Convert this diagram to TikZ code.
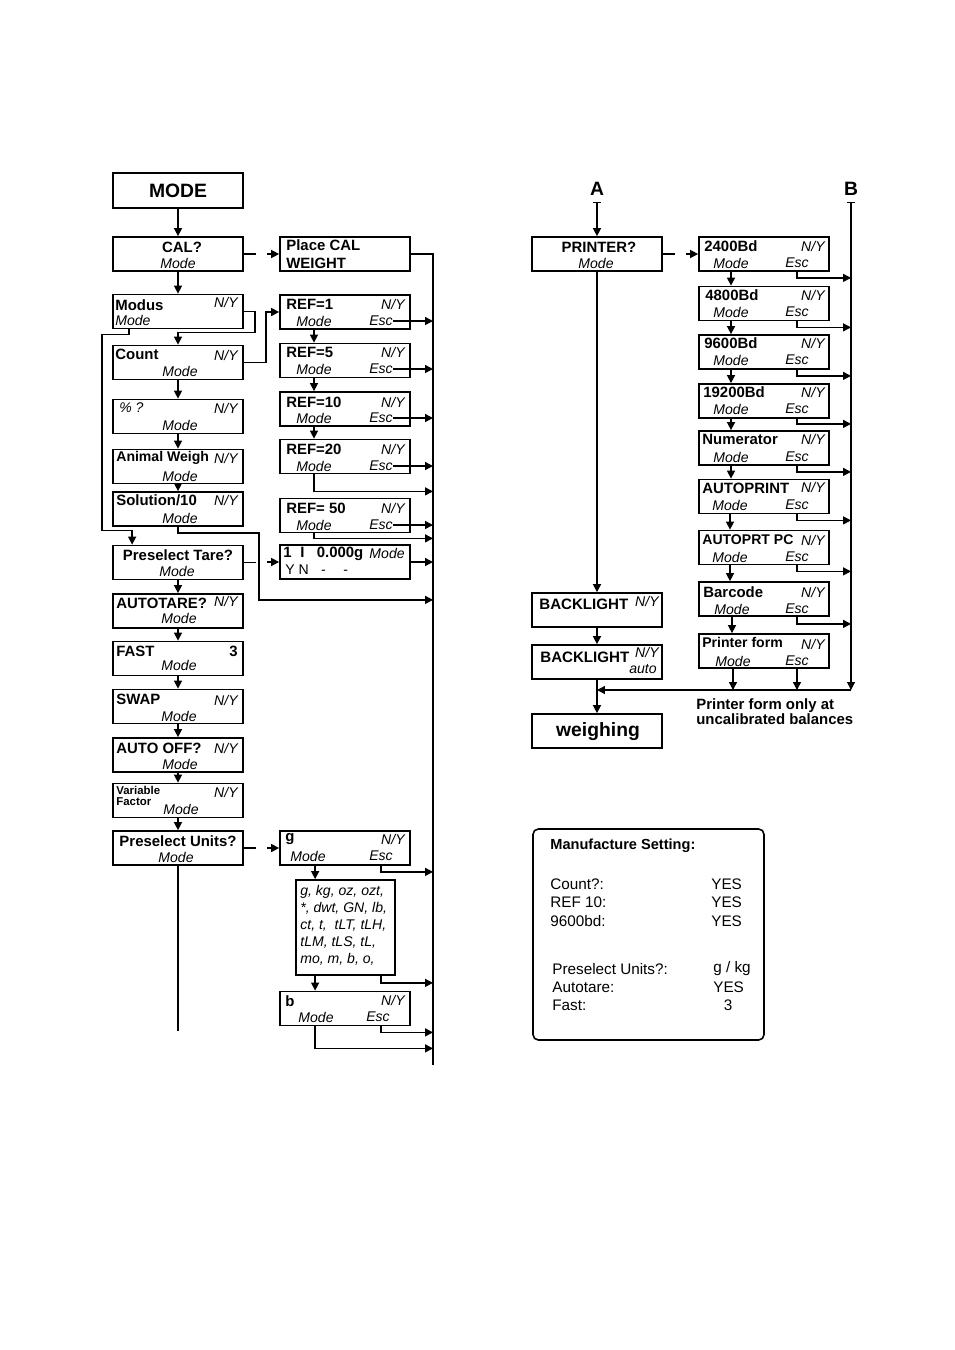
\documentclass[tikz,border=0pt]{standalone}
\usepackage{fontspec}
\setmainfont{Liberation Sans}
\usetikzlibrary{arrows.meta,calc}

\begin{document}
\begin{tikzpicture}[x=0.02cm,y=-0.02cm,
  disp/.style={draw,line width=1pt,minimum width=2.6cm,minimum height=0.68cm,inner sep=0},
  con/.style={line width=0.8pt},
  arr/.style={con,-{Triangle[length=4.5pt,width=4.5pt]}},
  busline/.style={line width=1.6pt},
  ttl/.style={inner sep=0,font=\fontsize{8.5}{9}\selectfont\bfseries},
  big/.style={inner sep=0,font=\fontsize{11}{12}\selectfont\bfseries},
  it/.style={inner sep=0,font=\fontsize{8}{9}\selectfont\itshape},
  txt/.style={inner sep=0,font=\fontsize{8.7}{10}\selectfont}]

\useasboundingbox (0,0) rectangle (955,1350);

% left column
\node[disp,minimum height=0.7cm] (mode) at (178,190.5) {};
\node[big] (mode-t) at (178,191) {MODE};

\node[disp] (cal) at (178,254) {};
\node[ttl] (cal-t) at (182,247) {CAL?};
\node[it] (cal-m) at (178,263) {Mode};

\node[disp] (modus) at (178,311.5) {};
\node[ttl,anchor=west] (modus-t) at (115,305) {Modus};
\node[it,anchor=east] (modus-n) at (238,302) {N/Y};
\node[it,anchor=west] (modus-m) at (115,320) {Mode};

\node[disp] (count) at (178,362.5) {};
\node[ttl,anchor=west] (count-t) at (115,354) {Count};
\node[it,anchor=east] (count-n) at (238,355) {N/Y};
\node[it] (count-m) at (180,371) {Mode};

\node[disp] (pct) at (178,416.5) {};
\node[it,anchor=west] (pct-t) at (119,408) {\% ?};
\node[it,anchor=east] (pct-n) at (238,408) {N/Y};
\node[it] (pct-m) at (180,425) {Mode};

\node[disp] (animal) at (178,466.5) {};
\node[ttl,anchor=west,font=\fontsize{8}{9}\selectfont\bfseries] (animal-t) at (116,458) {Animal Weigh};
\node[it,anchor=east] (animal-n) at (238,458) {N/Y};
\node[it] (animal-m) at (180,476) {Mode};

\node[disp] (sol) at (178,509) {};
\node[ttl,anchor=west] (sol-t) at (116,500) {Solution/10};
\node[it,anchor=east] (sol-n) at (238,500) {N/Y};
\node[it] (sol-m) at (180,518) {Mode};

\node[disp] (ptare) at (178,562.5) {};
\node[ttl] (ptare-t) at (178,555) {Preselect Tare?};
\node[it] (ptare-m) at (177,571) {Mode};

\node[disp] (atare) at (178,611) {};
\node[ttl,anchor=west] (atare-t) at (116,603) {AUTOTARE?};
\node[it,anchor=east] (atare-n) at (238,601) {N/Y};
\node[it] (atare-m) at (179,618) {Mode};

\node[disp] (fast) at (178,658.5) {};
\node[ttl,anchor=west] (fast-t) at (116,651) {FAST};
\node[ttl,anchor=east] (fast-n) at (238,651) {3};
\node[it] (fast-m) at (179,665) {Mode};

\node[disp] (swap) at (178,706.5) {};
\node[ttl,anchor=west] (swap-t) at (116,699) {SWAP};
\node[it,anchor=east] (swap-n) at (238,700) {N/Y};
\node[it] (swap-m) at (179,716) {Mode};

\node[disp] (aoff) at (178,755) {};
\node[ttl,anchor=west] (aoff-t) at (116,748) {AUTO OFF?};
\node[it,anchor=east] (aoff-n) at (238,748) {N/Y};
\node[it] (aoff-m) at (180,764) {Mode};

\node[disp] (var) at (178,800.5) {};
\node[ttl,anchor=west,font=\fontsize{6.5}{7}\selectfont\bfseries] (var-t) at (116,790) {Variable};
\node[ttl,anchor=west,font=\fontsize{6.5}{7}\selectfont\bfseries] (var-f) at (116,802) {Factor};
\node[it,anchor=east] (var-n) at (238,792) {N/Y};
\node[it] (var-m) at (181,809) {Mode};

\node[disp] (punits) at (178,848) {};
\node[ttl] (punits-t) at (178,841) {Preselect Units?};
\node[it] (punits-m) at (176,857) {Mode};

% middle column
\node[disp] (pcw) at (345,254) {};
\node[ttl,anchor=west] (pcw-t) at (286,245) {Place CAL};
\node[ttl,anchor=west] (pcw-w) at (286,263) {WEIGHT};

\node[disp] (ref1) at (345,312) {};
\node[ttl,anchor=west] (ref1-t) at (286,304) {REF=1};
\node[it,anchor=east] (ref1-n) at (405,304) {N/Y};
\node[it] (ref1-m) at (314,321) {Mode};
\node[it] (ref1-e) at (381,321) {Esc};

\node[disp] (ref5) at (345,360.5) {};
\node[ttl,anchor=west] (ref5-t) at (286,352) {REF=5};
\node[it,anchor=east] (ref5-n) at (405,352) {N/Y};
\node[it] (ref5-m) at (314,369) {Mode};
\node[it] (ref5-e) at (381,369) {Esc};

\node[disp] (ref10) at (345,409) {};
\node[ttl,anchor=west] (ref10-t) at (286,402) {REF=10};
\node[it,anchor=east] (ref10-n) at (405,402) {N/Y};
\node[it] (ref10-m) at (314,418) {Mode};
\node[it] (ref10-e) at (381,418) {Esc};

\node[disp] (ref20) at (345,456.5) {};
\node[ttl,anchor=west] (ref20-t) at (286,449) {REF=20};
\node[it,anchor=east] (ref20-n) at (405,449) {N/Y};
\node[it] (ref20-m) at (314,466) {Mode};
\node[it] (ref20-e) at (381,466) {Esc};

\node[disp] (ref50) at (345,515.5) {};
\node[ttl,anchor=west] (ref50-t) at (286,508) {REF= 50};
\node[it,anchor=east] (ref50-n) at (405,508) {N/Y};
\node[it] (ref50-m) at (314,525) {Mode};
\node[it] (ref50-e) at (381,525) {Esc};

\node[disp] (disp0) at (345,562) {};
\node[ttl,anchor=west] (disp0-t) at (283,554) {1\hspace{5pt}I\hspace{7pt}0.000g};
\node[it,anchor=east] (disp0-m) at (405,553) {Mode};
\node[txt,anchor=west,font=\fontsize{8}{9}\selectfont] (disp0-y) at (285,570) {Y N\hspace{7pt}-\hspace{10pt}-};

\node[disp] (g) at (345,848) {};
\node[ttl,anchor=west] (g-t) at (285,839) {g};
\node[it,anchor=east] (g-n) at (405,839) {N/Y};
\node[it] (g-m) at (308,856) {Mode};
\node[it] (g-e) at (381,856) {Esc};

\node[draw,line width=1pt,minimum width=1.98cm,minimum height=1.9cm,inner sep=0] (ul) at (345.5,927.5) {};
\node[it,anchor=north west,align=left,font=\fontsize{8}{9.6}\selectfont\itshape] (ul-t) at (300,885)
  {g, kg, oz, ozt,\\*, dwt, GN, lb,\\ct, t,\ \ tLT, tLH,\\tLM, tLS, tL,\\mo, m, b, o,};

\node[disp] (b) at (345,1008.5) {};
\node[ttl,anchor=west] (b-t) at (285,1001) {b};
\node[it,anchor=east] (b-n) at (405,1000) {N/Y};
\node[it] (b-m) at (316,1017) {Mode};
\node[it] (b-e) at (378,1017) {Esc};

\coordinate (bus) at (433,254);
\coordinate (busend) at (433,1065);
\coordinate (ulin) at ($(ul.north west)+(20,0)$);
\coordinate (ulout) at ($(ul.south west)+(20,0)$);

% left connectors
\draw[arr] (mode) -- (cal);
\draw[arr] (cal) -- (modus);
\draw[con] (cal.east) -- +(12,0);
\draw[arr] ($(pcw.west)+(-12,0)$) -- (pcw.west);
\draw[busline] (pcw.east) -- (bus) -- (busend);
\draw[arr] (modus.east) -- ++(11,0) -- ++(0,21) -| (count.north);
\draw[arr] ($(modus.south west)+(17,0)$) -- ++(0,5) -- ++(-27,0) |- ($(ptare.north west)+(20,-14)$) -- ($(ptare.north west)+(20,0)$);
\draw[arr] (count.east) -- ++(22,0) |- (ref1.west);
\draw[arr] (count) -- (pct);
\draw[arr] (pct) -- (animal);
\draw[arr] (animal) -- (sol);
\draw[arr] (sol.south) -- ++(0,6) -| ++(81,67) coordinate (solc) -- (solc -| bus);
\draw[con] (ptare.east) -- +(12,0);
\draw[arr] ($(disp0.west)+(-12,0)$) -- (disp0.west);
\draw[arr] (disp0.east) -- (disp0.east -| bus);
\draw[arr] (ptare) -- (atare);
\draw[arr] (atare) -- (fast);
\draw[arr] (fast) -- (swap);
\draw[arr] (swap) -- (aoff);
\draw[arr] (aoff) -- (var);
\draw[arr] (var) -- (punits);
\draw[con] (punits.south) -- ++(0,165);
\draw[con] (punits.east) -- +(12,0);
\draw[arr] ($(g.west)+(-12,0)$) -- (g.west);

% REF chain
\draw[arr] (ref1-m |- ref1.south) -- (ref1-m |- ref5.north);
\draw[arr] (ref5-m |- ref5.south) -- (ref5-m |- ref10.north);
\draw[arr] (ref10-m |- ref10.south) -- (ref10-m |- ref20.north);
\draw[arr] (ref1-e.east) -- (ref1-e.east -| bus);
\draw[arr] (ref5-e.east) -- (ref5-e.east -| bus);
\draw[arr] (ref10-e.east) -- (ref10-e.east -| bus);
\draw[arr] (ref20-e.east) -- (ref20-e.east -| bus);
\draw[arr] (ref50-e.east) -- (ref50-e.east -| bus);
\draw[arr] (ref20-m |- ref20.south) -- ++(0,17) coordinate (r20c) -- (r20c -| bus);
\draw[arr] (ref50-m |- ref50.south) -- ++(0,5) coordinate (r50c) -- (r50c -| bus);

% units
\draw[arr] (ulin |- g.south) -- (ulin);
\draw[arr] (ulout) -- (ulout |- b.north);
\draw[arr] (g-e |- g.south) -- ++(0,6) coordinate (gc) -- (gc -| bus);
\draw[arr] (g-e |- ul.south) -- ++(0,7) coordinate (uc) -- (uc -| bus);
\draw[arr] (g-e |- b.south) -- ++(0,6) coordinate (bc) -- (bc -| bus);
\draw[arr] (ulout |- b.south) -- ++(0,22) coordinate (bd) -- (bd -| bus);

% printer side
\node[big] (A) at (597,189) {A};
\node[big] (B) at (851,189) {B};
\coordinate (jn) at (851,690);

\node[disp] (printer) at (597,254) {};
\node[ttl] (printer-t) at (599,247) {PRINTER?};
\node[it] (printer-m) at (596,263) {Mode};

\node[disp] (bl1) at (597,610) {};
\node[ttl,anchor=west,font=\fontsize{8.6}{10}\selectfont\bfseries] (bl1-t) at (539,604) {BACKLIGHT};
\node[it,anchor=east] (bl1-n) at (659,601) {N/Y};

\node[disp] (bl2) at (597,662) {};
\node[ttl,anchor=west,font=\fontsize{8.6}{10}\selectfont\bfseries] (bl2-t) at (540,657) {BACKLIGHT};
\node[it,anchor=east] (bl2-n) at (659,652) {N/Y};
\node[it,anchor=east] (bl2-a) at (657,669) {auto};

\node[disp] (weigh) at (597,731) {};
\node[big] (weigh-t) at (598,732) {weighing};

\node[disp] (b24) at (764,254) {};
\node[ttl,anchor=west] (b24-t) at (704,246) {2400Bd};
\node[it,anchor=east] (b24-n) at (825,246) {N/Y};
\node[it] (b24-m) at (731,263) {Mode};
\node[it] (b24-e) at (797,263) {Esc};

\node[disp] (b48) at (764,303.5) {};
\node[ttl,anchor=west] (b48-t) at (705,295) {4800Bd};
\node[it,anchor=east] (b48-n) at (825,295) {N/Y};
\node[it] (b48-m) at (731,312) {Mode};
\node[it] (b48-e) at (797,312) {Esc};

\node[disp] (b96) at (764,352) {};
\node[ttl,anchor=west] (b96-t) at (704,343) {9600Bd};
\node[it,anchor=east] (b96-n) at (825,343) {N/Y};
\node[it] (b96-m) at (731,360) {Mode};
\node[it] (b96-e) at (797,360) {Esc};

\node[disp] (b192) at (764,401) {};
\node[ttl,anchor=west] (b192-t) at (703,392) {19200Bd};
\node[it,anchor=east] (b192-n) at (825,392) {N/Y};
\node[it] (b192-m) at (731,409) {Mode};
\node[it] (b192-e) at (797,409) {Esc};

\node[disp] (num) at (764,448) {};
\node[ttl,anchor=west] (num-t) at (702,439) {Numerator};
\node[it,anchor=east] (num-n) at (825,439) {N/Y};
\node[it] (num-m) at (731,457) {Mode};
\node[it] (num-e) at (797,457) {Esc};

\node[disp] (aprint) at (764,496.5) {};
\node[ttl,anchor=west] (aprint-t) at (702,488) {AUTOPRINT};
\node[it,anchor=east] (aprint-n) at (825,487) {N/Y};
\node[it] (aprint-m) at (730,505) {Mode};
\node[it] (aprint-e) at (797,505) {Esc};

\node[disp] (aprtpc) at (764,547.5) {};
\node[ttl,anchor=west,font=\fontsize{8}{9}\selectfont\bfseries] (aprtpc-t) at (702,540) {AUTOPRT PC};
\node[it,anchor=east] (aprtpc-n) at (825,540) {N/Y};
\node[it] (aprtpc-m) at (730,557) {Mode};
\node[it] (aprtpc-e) at (797,557) {Esc};

\node[disp] (bar) at (764,599) {};
\node[ttl,anchor=west] (bar-t) at (703,592) {Barcode};
\node[it,anchor=east] (bar-n) at (825,592) {N/Y};
\node[it] (bar-m) at (732,609) {Mode};
\node[it] (bar-e) at (797,609) {Esc};

\node[disp] (pform) at (764,651) {};
\node[ttl,anchor=west,font=\fontsize{8}{9}\selectfont\bfseries] (pform-t) at (702,642) {Printer form};
\node[it,anchor=east] (pform-n) at (825,644) {N/Y};
\node[it] (pform-m) at (733,661) {Mode};
\node[it] (pform-e) at (797,661) {Esc};

\node[ttl,anchor=north west,align=left,font=\fontsize{8.5}{8.5}\selectfont\bfseries] (pfnote) at (696,698)
  {Printer form only at\\uncalibrated balances};

% printer connectors
\draw[con,{Bar[width=5pt]}-{Triangle[length=4.5pt,width=4.5pt]}] ($(A.south)+(0,6)$) -- (printer.north);
\draw[line width=0.6pt,{Bar[width=5pt]}-{Triangle[length=4.5pt,width=4.5pt]}] ($(B.south)+(0,6)$) -- (jn);
\draw[con] (printer.east) -- +(12,0);
\draw[arr] ($(b24.west)+(-12,0)$) -- (b24.west);
\draw[arr] (printer) -- (bl1);
\draw[arr] (bl1) -- (bl2);
\draw[arr] (bl2) -- (weigh);
\draw[arr] (jn) -- (bl2.south |- jn);

\draw[arr] (b24-m |- b24.south) -- (b24-m |- b48.north);
\draw[arr] (b48-m |- b48.south) -- (b48-m |- b96.north);
\draw[arr] (b96-m |- b96.south) -- (b96-m |- b192.north);
\draw[arr] (b192-m |- b192.south) -- (b192-m |- num.north);
\draw[arr] (num-m |- num.south) -- (num-m |- aprint.north);
\draw[arr] (aprint-m |- aprint.south) -- (aprint-m |- aprtpc.north);
\draw[arr] (aprtpc-m |- aprtpc.south) -- (aprtpc-m |- bar.north);
\draw[arr] (bar-m |- bar.south) -- (bar-m |- pform.north);
\draw[arr] (pform-m |- pform.south) -- (pform-m |- jn);
\draw[arr] (pform-e |- pform.south) -- (pform-e |- jn);

\draw[arr] (b24-e |- b24.south) -- ++(0,6) coordinate (c1) -- (c1 -| jn);
\draw[arr] (b48-e |- b48.south) -- ++(0,6) coordinate (c2) -- (c2 -| jn);
\draw[arr] (b96-e |- b96.south) -- ++(0,6) coordinate (c3) -- (c3 -| jn);
\draw[arr] (b192-e |- b192.south) -- ++(0,5) coordinate (c4) -- (c4 -| jn);
\draw[arr] (num-e |- num.south) -- ++(0,6) coordinate (c5) -- (c5 -| jn);
\draw[arr] (aprint-e |- aprint.south) -- ++(0,6) coordinate (c6) -- (c6 -| jn);
\draw[arr] (aprtpc-e |- aprtpc.south) -- ++(0,6) coordinate (c7) -- (c7 -| jn);
\draw[arr] (bar-e |- bar.south) -- ++(0,7) coordinate (c8) -- (c8 -| jn);

% manufacture setting
\node[draw,line width=0.9pt,rounded corners=3pt,minimum width=4.62cm,minimum height=4.22cm] (ms) at (648.5,934.5) {};
\node[ttl,anchor=west,font=\fontsize{8.3}{9}\selectfont\bfseries] (ms-t) at (550,846) {Manufacture Setting:};
\node[txt,anchor=west] (ms-c) at (550,884) {Count?:};
\node[txt,anchor=west] (ms-cv) at (711,884) {YES};
\node[txt,anchor=west] (ms-r) at (550,902) {REF 10:};
\node[txt,anchor=west] (ms-rv) at (711,902) {YES};
\node[txt,anchor=west] (ms-b) at (550,921) {9600bd:};
\node[txt,anchor=west] (ms-bv) at (711,921) {YES};
\node[txt,anchor=west] (ms-u) at (552,969) {Preselect Units?:};
\node[txt,anchor=west] (ms-uv) at (713,969) {g / kg};
\node[txt,anchor=west] (ms-a) at (552,987) {Autotare:};
\node[txt,anchor=west] (ms-av) at (713,987) {YES};
\node[txt,anchor=west] (ms-f) at (552,1005) {Fast:};
\node[txt] (ms-fv) at (728,1005) {3};

\end{tikzpicture}
\end{document}
